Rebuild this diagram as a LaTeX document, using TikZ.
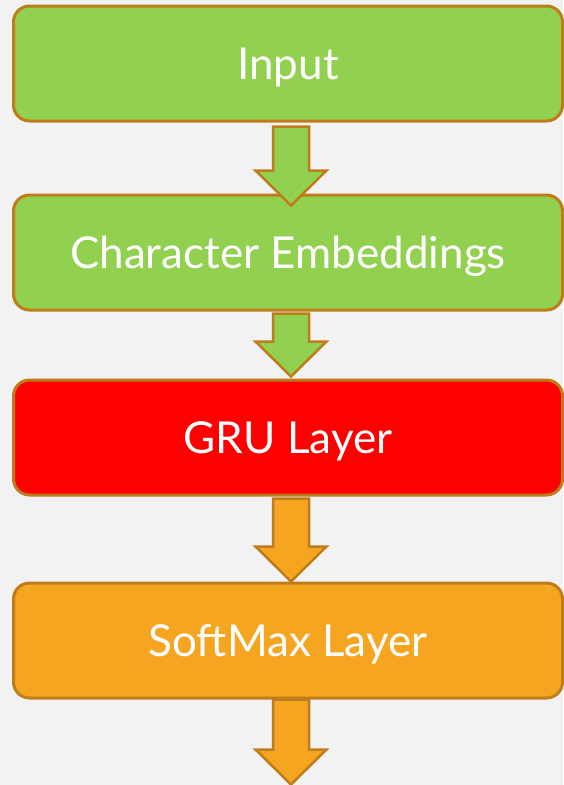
\documentclass[tikz,border=0pt]{standalone}
\usepackage{fontspec}
\setmainfont{Lato}
\usetikzlibrary{calc,positioning}
\definecolor{bggray}{RGB}{242,242,242}
\definecolor{leafgreen}{RGB}{146,208,80}
\definecolor{brightred}{RGB}{255,0,0}
\definecolor{amber}{RGB}{245,165,32}
\definecolor{rimbrown}{RGB}{190,124,26}

\tikzset{
  layerbox/.style={draw=rimbrown, line width=3pt, rounded corners=16pt,
    minimum width=549pt, minimum height=115pt, inner sep=0pt,
    text height=31pt, text depth=0pt,
    text=white, font=\fontsize{44}{50}\selectfont},
  arrowline/.style={draw=rimbrown, line width=2.5pt, line join=miter}
}

% block arrow: fill, start point, tip point
\newcommand{\blockarrow}[3]{%
  \draw[arrowline, fill=#1] ($(#2)+(-18,0)$) -- ($(#2)+(18,0)$)
    -- ($(#3)+(18,-35)$) -- ($(#3)+(35.5,-35)$) -- (#3)
    -- ($(#3)+(-35.5,-35)$) -- ($(#3)+(-18,-35)$) -- cycle;}

\begin{document}
\begin{tikzpicture}[x=1pt, y=-1pt]
  \fill[bggray] (0,0) rectangle (563,785);
  \useasboundingbox (0,0) rectangle (563,785);

  \node[layerbox, fill=leafgreen] (input) at (288,63.5) {Input};
  \node[layerbox, fill=leafgreen] (embed) at (288,252.5) {Character Embeddings};
  \node[layerbox, fill=brightred] (gru) at (288,437.5) {GRU Layer};
  \node[layerbox, fill=amber] (softmax) at (288,640.5) {SoftMax Layer};

  \coordinate (top1) at ($(input.south)+(3,4)$);
  \coordinate (tip1) at ($(embed.north)+(3,12)$);
  \coordinate (top2) at ($(embed.south)+(3,2)$);
  \coordinate (tip2) at ($(gru.north)+(3,-2)$);
  \coordinate (top3) at ($(gru.south)+(3,2)$);
  \coordinate (tip3) at ($(softmax.north)+(3,0)$);
  \coordinate (top4) at ($(softmax.south)+(3,0)$);
  \coordinate (tip4) at ($(softmax.south)+(3,85)$);

  \blockarrow{leafgreen}{top1}{tip1}
  \blockarrow{leafgreen}{top2}{tip2}
  \blockarrow{amber}{top3}{tip3}
  \blockarrow{amber}{top4}{tip4}
\end{tikzpicture}
\end{document}
